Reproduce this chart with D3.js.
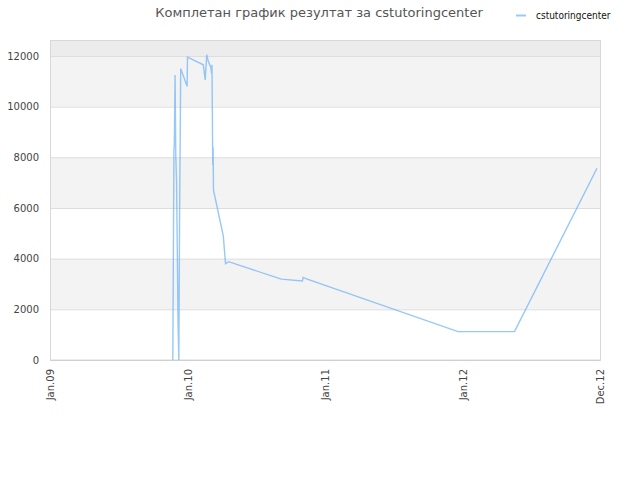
<!DOCTYPE html>
<html>
<head>
<meta charset="utf-8">
<script src="https://cdn.jsdelivr.net/npm/d3@7"></script>
<style>
	body { margin: 0; background: #fff; }
	text { font-family: "DejaVu Sans", sans-serif; }
</style>
</head>
<body>
<svg id="chart" width="640" height="480"></svg>
<script>
"use strict";

/* global d3 */

// Chart data
var seriesName = "cstutoringcenter";
var chartTitle = "Комплетан график резултат за cstutoringcenter";

var pointDates = [
	"2009-11-23", "2009-11-24", "2009-11-26", "2009-11-27", "2009-11-29",
	"2009-12-01", "2009-12-03", "2009-12-05", "2009-12-07", "2009-12-09",
	"2009-12-11", "2009-12-14", "2009-12-31", "2010-01-01", "2010-02-12",
	"2010-02-17", "2010-02-21", "2010-02-25", "2010-03-04", "2010-03-06",
	"2010-03-07", "2010-03-08", "2010-03-09", "2010-03-10", "2010-03-11",
	"2010-04-06", "2010-04-12", "2010-04-20", "2010-09-07", "2010-11-02",
	"2010-11-04", "2010-11-13", "2011-12-20", "2012-05-18", "2012-12-23"
];
var pointValues = [
	0, 2800, 8300, 8500, 11250,
	8000, 7000, 4200, 1400, 0,
	5700, 11500, 10800, 11950, 11650,
	11050, 12050, 11800, 11550, 11300,
	11650, 9700, 7700, 8400, 6700,
	4900, 3800, 3880, 3190, 3120,
	3260, 3200, 1120, 1120, 7570
];

var yTicks = [0, 2000, 4000, 6000, 8000, 10000, 12000];
var yMax = 12630;
var xTickDates = ["2009-01-01", "2010-01-01", "2011-01-01", "2012-01-01", "2012-12-31"];

////////////////////////////////////////////////////////////////////////////////
// Draw the whole chart into the given svg selection
////////////////////////////////////////////////////////////////////////////////
function drawChart(svg) {
	var plot = { x: 50, y: 40, w: 550, h: 320 };
	var parseDate = d3.timeParse("%Y-%m-%d");

	var data = pointDates.map(function(d, i) {
		return { date: parseDate(d), value: pointValues[i] };
	});
	var xTicks = xTickDates.map(parseDate);

	var xScale = d3.scaleTime().
		domain([xTicks[0], xTicks[xTicks.length - 1]]).
		range([plot.x, plot.x + plot.w]);
	var yScale = d3.scaleLinear().domain([0, yMax]).range([plot.y + plot.h, plot.y]);

	// Background bands: alternating white / light gray, darker strip above the last tick
	var bandEdges = yTicks.concat([yMax]);
	var bands = d3.range(bandEdges.length - 1).map(function(i) {
		return { lo: bandEdges[i], hi: bandEdges[i + 1], i: i };
	});
	svg.append("g").selectAll("rect").data(bands).join("rect").
		attr("x", plot.x).attr("width", plot.w).
		attr("y", function(d) { return yScale(d.hi); }).
		attr("height", function(d) { return yScale(d.lo) - yScale(d.hi); }).
		style("fill", function(d) {
			if (d.i === bands.length - 1) return "#ececec";
			return d.i % 2 ? "#f3f3f3" : "#ffffff";
		});

	// Horizontal grid lines
	var yAxis = d3.axisLeft(yScale).tickValues(yTicks).tickSize(-plot.w).tickPadding(11).
		tickFormat(d3.format("d"));
	var gy = svg.append("g").attr("transform", "translate(" + plot.x + ",0)").call(yAxis);
	gy.select(".domain").remove();
	gy.selectAll(".tick line").style("stroke", "#dddddd");
	gy.selectAll(".tick text").style("fill", "#444").style("font-size", "10px").
		style("font-family", "DejaVu Sans, sans-serif");

	// Plot frame
	svg.append("rect").attr("x", plot.x + 0.5).attr("y", plot.y + 0.5).
		attr("width", plot.w).attr("height", plot.h - 0.5).
		style("fill", "none").style("stroke", "#d8d8d8");

	// X axis with rotated labels
	var xAxis = d3.axisBottom(xScale).tickValues(xTicks).tickSize(0).tickPadding(0).
		tickFormat(d3.timeFormat("%b.%y"));
	var gx = svg.append("g").attr("transform", "translate(0," + (plot.y + plot.h) + ")").call(xAxis);
	gx.select(".domain").style("stroke", "#d0d0d0");
	gx.selectAll(".tick text").
		attr("transform", "rotate(-90)").attr("x", -9).attr("y", 0).attr("dy", "0.35em").
		style("text-anchor", "end").style("fill", "#444").style("font-size", "10px").
		style("font-family", "DejaVu Sans, sans-serif");

	// Series line
	var line = d3.line().
		x(function(d) { return xScale(d.date); }).
		y(function(d) { return yScale(d.value); });
	svg.append("path").datum(data).attr("d", line).
		style("fill", "none").style("stroke", "#6fb3f4").style("stroke-opacity", 0.72).
		style("stroke-width", 1.4).style("stroke-linejoin", "miter");

	// Title
	svg.append("text").attr("x", 319).attr("y", 17).text(chartTitle).
		style("text-anchor", "middle").style("font-size", "13px").style("fill", "#555");

	// Legend
	var legend = svg.append("g").attr("transform", "translate(516,15)");
	legend.append("line").attr("x1", 0).attr("x2", 10).attr("y1", 0.5).attr("y2", 0.5).
		style("stroke", "#9ccaf6").style("stroke-width", 2);
	legend.append("text").attr("x", 20).attr("y", 0).attr("dy", "0.35em").text(seriesName).
		style("font-size", "10px").style("font-family", "DejaVu Sans Condensed, sans-serif").
		style("fill", "#111");
} // end function drawChart(...)

drawChart(d3.select("#chart"));
</script>
</body>
</html>
